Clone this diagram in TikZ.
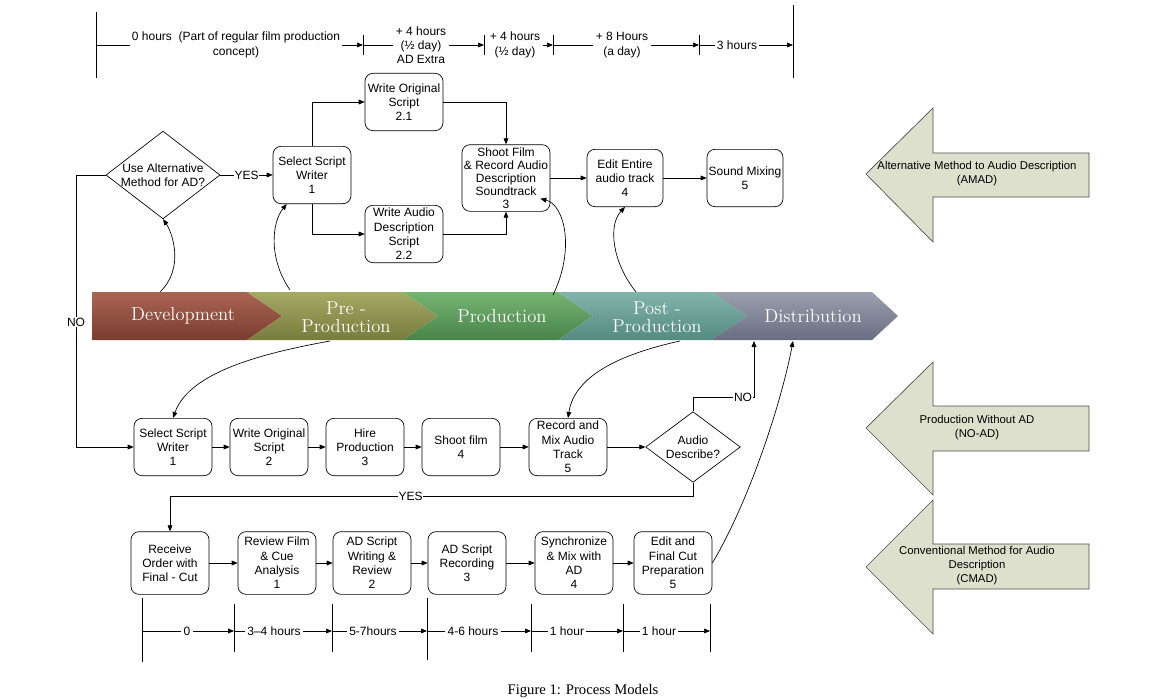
\documentclass[tikz,border=0pt]{standalone}
\usepackage{fontspec}
\newfontfamily\arialf{Liberation Sans}
\newfontfamily\timesf{Liberation Serif}
\usepackage{xcolor}
\usetikzlibrary{arrows.meta, positioning, calc, shapes.geometric}

\definecolor{devtop}{RGB}{170,100,84}
\definecolor{devbot}{RGB}{122,60,46}
\definecolor{pretop}{RGB}{165,170,100}
\definecolor{prebot}{RGB}{118,124,60}
\definecolor{prodtop}{RGB}{118,180,115}
\definecolor{prodbot}{RGB}{72,132,74}
\definecolor{posttop}{RGB}{130,180,170}
\definecolor{postbot}{RGB}{84,138,128}
\definecolor{disttop}{RGB}{155,160,176}
\definecolor{distbot}{RGB}{104,110,128}
\definecolor{khaki}{RGB}{221,224,204}

\begin{document}
\begin{tikzpicture}[x=0.75pt, y=-0.75pt, line width=0.5pt,
    every node/.style={font=\arialf\fontsize{9}{10.7}\selectfont},
    box/.style={draw, rounded corners=6pt, minimum width=58.5pt, minimum height=43pt, align=center, inner sep=1pt},
    decision/.style={draw, diamond, aspect=1.3, inner sep=0pt, align=center},
    arr/.style={-{Triangle[length=4.5pt, width=3.6pt]}},
    lbl/.style={fill=white, inner sep=0.6pt},
    hrs/.style={align=center, inner sep=1.5pt},
    phase/.style={text=white, align=center, font=\fontsize{14}{13.5}\selectfont},
    bigarrow/.style={fill=khaki, draw=black!70}]

    \useasboundingbox (0,0) rectangle (1164,699);

    % time line on top
    \draw (96,12) -- (96,78);
    \draw (793,5) -- (793,78);
    \draw (363,35) -- (363,55);
    \draw (484,35) -- (484,55);
    \draw (553,35) -- (553,55);
    \draw (699,35) -- (699,55);
    \coordinate (k0) at (96,45);
    \coordinate (k1) at (363,45);
    \coordinate (k2) at (484,45);
    \coordinate (k3) at (553,45);
    \coordinate (k4) at (699,45);
    \coordinate (k5) at (793,45);
    \node[hrs] (hrs0) at (236,45) {0 hours\ \ (Part of regular film production\\concept)};
    \node[hrs] (hrs1) at (421,45) {+ 4 hours\\(½ day)\\AD Extra};
    \node[hrs] (hrs2) at (515,45) {+ 4 hours\\(½ day)};
    \node[hrs] (hrs3) at (622,45) {+ 8 Hours\\(a day)};
    \node[hrs] (hrs4) at (737,45) {3 hours};
    \draw (k0) -- (hrs0.west);
    \draw[arr] (hrs0.east) -- (k1);
    \draw (k1) -- (hrs1.west);
    \draw[arr] (hrs1.east) -- (k2);
    \draw[arr] (hrs2.east) -- (k3);
    \draw (k3) -- (hrs3.west);
    \draw[arr] (hrs3.east) -- (k4);
    \draw (k4) -- (hrs4.west);
    \draw[arr] (hrs4.east) -- (k5);

    % AMAD flow
    \node[decision, minimum width=84pt, minimum height=64pt] (alt) at (163,175) {Use Alternative\\Method for AD?};
    \node[box] (amad1) at (312,175) {Select Script\\Writer\\1};
    \node[box] (amad21) at (404,102) {Write Original\\Script\\2.1};
    \node[box] (amad22) at (404,234) {Write Audio\\Description\\Script\\2.2};
    \node[box, minimum width=66pt, minimum height=50pt, font=\arialf\fontsize{9}{9.8}\selectfont] (amad3) at (506,178) {Shoot Film\\\& Record Audio\\Description\\Soundtrack\\3};
    \node[box, minimum width=57pt] (amad4) at (625,178) {Edit Entire\\audio track\\4};
    \node[box, minimum width=57pt] (amad5) at (745,178) {Sound Mixing\\5};
    \draw[arr] (alt.east) -- node[lbl] {YES} (amad1.west);
    \draw[arr] (amad1.north) |- (amad21.west);
    \draw[arr] (amad1.south) |- (amad22.west);
    \draw[arr] (amad21.east) -| (amad3.north);
    \draw[arr] (amad22.east) -| (amad3.south);
    \draw[arr] (amad3.east) -- (amad4.west);
    \draw[arr] (amad4.east) -- (amad5.west);

    % phase bar
    \shade[top color=devtop, bottom color=devbot] (92,292) -- (247,292) -- (282,316) -- (247,340) -- (92,340) -- cycle;
    \shade[top color=pretop, bottom color=prebot] (247,292) -- (403,292) -- (438,316) -- (403,340) -- (247,340) -- (282,316) -- cycle;
    \shade[top color=prodtop, bottom color=prodbot] (403,292) -- (558,292) -- (593,316) -- (558,340) -- (403,340) -- (438,316) -- cycle;
    \shade[top color=posttop, bottom color=postbot] (558,292) -- (712,292) -- (747,316) -- (712,340) -- (558,340) -- (593,316) -- cycle;
    \shade[top color=disttop, bottom color=distbot] (712,292) -- (872,292) -- (898,316) -- (872,340) -- (712,340) -- (747,316) -- cycle;
    \node[phase] (dev) at (183,316) {Development};
    \node[phase] (pre) at (346,317) {Pre -\\Production};
    \node[phase] (prod) at (502,316) {Production};
    \node[phase] (post) at (657,317) {Post -\\Production};
    \node[phase] (dist) at (813,316) {Distribution};
    \coordinate (devup) at (160,292);
    \coordinate (preup) at (290,290);
    \coordinate (produp) at (553,295);
    \coordinate (postup) at (636,292);
    \coordinate (predown) at (330,341);
    \coordinate (postdown) at (680,341);
    \coordinate (distno) at (754,341);
    \coordinate (distcmad) at (793,341);

    % NO-AD flow
    \node[box] (noad1) at (173,447) {Select Script\\Writer\\1};
    \node[box] (noad2) at (269,447) {Write Original\\Script\\2};
    \node[box] (noad3) at (365,447) {Hire\\Production\\3};
    \node[box] (noad4) at (461,447) {Shoot film\\4};
    \node[box] (noad5) at (568,447) {Record and\\Mix Audio\\Track\\5};
    \node[decision, minimum width=71pt, minimum height=53pt] (askad) at (693,447) {Audio\\Describe?};
    \draw[arr] (noad1.east) -- (noad2.west);
    \draw[arr] (noad2.east) -- (noad3.west);
    \draw[arr] (noad3.east) -- (noad4.west);
    \draw[arr] (noad4.east) -- (noad5.west);
    \draw[arr] (noad5.east) -- (askad.west);
    \coordinate (nobend) at (76,447);
    \draw[arr] (alt.west) -| node[lbl, pos=0.77] {NO} (nobend) -- (noad1.west);
    \coordinate (nobend2) at (754,397);
    \draw[arr] (askad.north) |- node[lbl, pos=0.91] {NO} (nobend2) -- (distno);

    % CMAD flow
    \node[box, minimum height=47pt] (cmad0) at (170,563) {Receive\\Order with\\Final - Cut};
    \node[box, minimum height=47pt] (cmad1) at (277,563) {Review Film\\\& Cue\\Analysis\\1};
    \node[box, minimum height=47pt] (cmad2) at (372,563) {AD Script\\Writing \&\\Review\\2};
    \node[box, minimum height=47pt] (cmad3) at (467,563) {AD Script\\Recording\\3};
    \node[box, minimum height=47pt] (cmad4) at (574,563) {Synchronize\\\& Mix with\\AD\\4};
    \node[box, minimum height=47pt] (cmad5) at (673,563) {Edit and\\Final Cut\\Preparation\\5};
    \draw[arr] (cmad0.east) -- (cmad1.west);
    \draw[arr] (cmad1.east) -- (cmad2.west);
    \draw[arr] (cmad2.east) -- (cmad3.west);
    \draw[arr] (cmad3.east) -- (cmad4.west);
    \draw[arr] (cmad4.east) -- (cmad5.west);
    \coordinate (yesbend) at (170,496);
    \draw[arr] (askad.south) |- node[lbl, pos=0.77] {YES} (yesbend) -- (cmad0.north);

    % phases to steps
    \coordinate (shootin) at ($(amad3.south east)+(-10,-13)$);
    \draw[arr] (devup) .. controls (185,268) and (172,232) .. (alt.south);
    \draw[arr] (preup) .. controls (268,258) and (272,222) .. (amad1.229);
    \draw[arr] (produp) .. controls (575,250) and (565,205) .. (shootin);
    \draw[arr] (postup) .. controls (612,262) and (608,225) .. (amad4.south);
    \draw[arr] (predown) .. controls (270,352) and (190,370) .. (noad1.north);
    \draw[arr] (postdown) .. controls (630,352) and (575,372) .. (noad5.north);
    \draw[arr] (cmad5.east) .. controls (750,500) and (782,400) .. (distcmad);

    % method arrows
    \filldraw[bigarrow] (866,174) -- (933,108) -- (933,153) -- (1089,153) -- (1089,197) -- (933,197) -- (933,242) -- cycle;
    \filldraw[bigarrow] (866,428) -- (933,362) -- (933,406) -- (1089,406) -- (1089,451) -- (933,451) -- (933,495) -- cycle;
    \filldraw[bigarrow] (866,567) -- (933,500) -- (933,544) -- (1089,544) -- (1089,589) -- (933,589) -- (933,634) -- cycle;
    \node[align=center, font=\arialf\fontsize{8.5}{10.5}\selectfont] (amadlbl) at (977,174) {Alternative Method to Audio Description\\(AMAD)};
    \node[align=center, font=\arialf\fontsize{8.5}{10.5}\selectfont] (noadlbl) at (977,428) {Production Without AD\\(NO-AD)};
    \node[align=center, font=\arialf\fontsize{8.5}{10.5}\selectfont] (cmadlbl) at (977,566) {Conventional Method for Audio\\Description\\(CMAD)};

    % time line at the bottom
    \draw (142,598) -- (142,662);
    \draw (234,604) -- (234,652);
    \draw (332,604) -- (332,652);
    \draw (427,598) -- (427,660);
    \draw (531,604) -- (531,652);
    \draw (623,604) -- (623,652);
    \draw (710,604) -- (710,652);
    \coordinate (b0) at (142,631);
    \coordinate (b1) at (234,631);
    \coordinate (b2) at (332,631);
    \coordinate (b3) at (427,631);
    \coordinate (b4) at (531,631);
    \coordinate (b5) at (623,631);
    \coordinate (b6) at (710,631);
    \node[hrs] (dur0) at (187,631) {0};
    \node[hrs] (dur1) at (274,631) {3–4 hours};
    \node[hrs] (dur2) at (373,631) {5-7hours};
    \node[hrs] (dur3) at (473,631) {4-6 hours};
    \node[hrs] (dur4) at (567,631) {1 hour};
    \node[hrs] (dur5) at (659,631) {1 hour};
    \draw (b0) -- (dur0.west);
    \draw[arr] (dur0.east) -- (b1);
    \draw (b1) -- (dur1.west);
    \draw[arr] (dur1.east) -- (b2);
    \draw (b2) -- (dur2.west);
    \draw[arr] (dur2.east) -- (b3);
    \draw (b3) -- (dur3.west);
    \draw[arr] (dur3.east) -- (b4);
    \draw (b4) -- (dur4.west);
    \draw[arr] (dur4.east) -- (b5);
    \draw (b5) -- (dur5.west);
    \draw[arr] (dur5.east) -- (b6);

    \node[font=\timesf\fontsize{11}{13}\selectfont] (caption) at (583,691) {Figure 1: Process Models};

\end{tikzpicture}
\end{document}
